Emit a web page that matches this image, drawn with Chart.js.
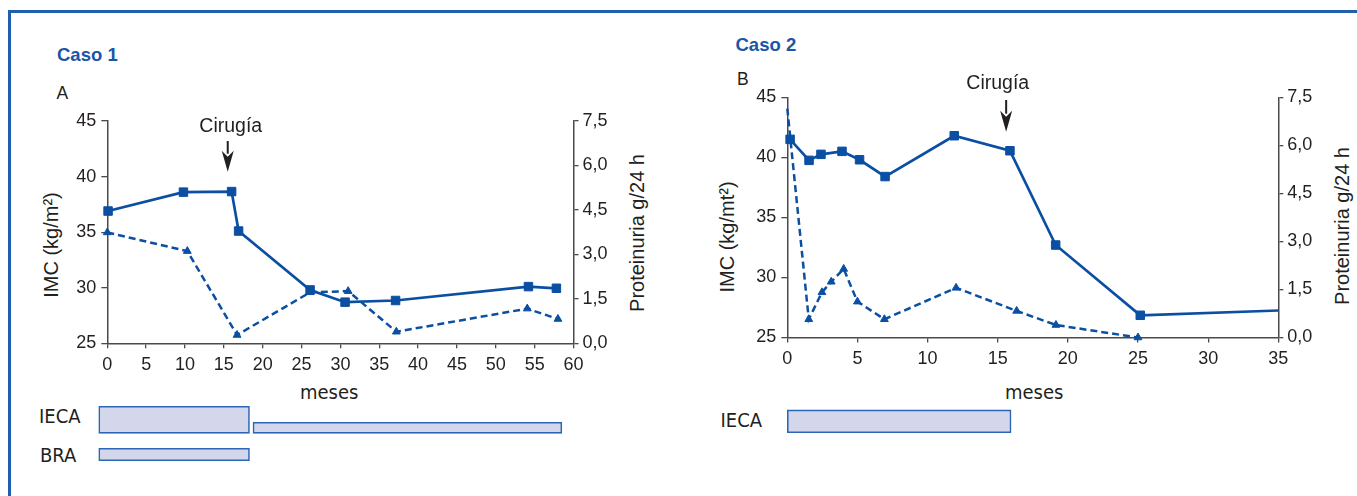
<!DOCTYPE html>
<html><head><meta charset="utf-8">
<script src="https://cdn.jsdelivr.net/npm/chart.js@4/dist/chart.umd.min.js"></script>
<style>
html,body{margin:0;padding:0;background:#fff;}
body{width:1357px;height:496px;position:relative;overflow:hidden;font-family:"Liberation Sans",Arial,sans-serif;color:#231f20;}
.abs{position:absolute;line-height:1;white-space:nowrap;}
.frameTop{position:absolute;left:8px;top:10px;width:1349px;height:3px;background:#1f5fae;}
.frameLeft{position:absolute;left:8px;top:10px;width:3px;height:486px;background:#1f5fae;}
.caso{font-weight:bold;color:#1a56a6;font-size:18.5px;}
.panel{font-size:17.5px;}
.narrow{font-family:"Liberation Sans Narrow","DejaVu Sans Condensed",sans-serif;}
.lab{font-size:20px;}
.meses{font-size:20px;}
.rot{transform:translate(-50%,-50%) rotate(-90deg);font-size:20px;}
canvas{position:absolute;}
</style></head><body>
<div class="frameTop"></div><div class="frameLeft"></div>

<div class="abs caso" style="left:57px;top:46px;">Caso 1</div>
<div class="abs panel" style="left:56.5px;top:84.5px;">A</div>
<div class="abs caso" style="left:735.5px;top:36px;">Caso 2</div>
<div class="abs panel" style="left:737px;top:70.5px;">B</div>

<div class="abs rot" style="left:51px;top:245px;">IMC (kg/m²)</div>
<div class="abs rot" style="left:637px;top:233px;">Proteinuria g/24 h</div>
<div class="abs rot" style="left:727px;top:237px;">IMC (kg/mt²)</div>
<div class="abs rot" style="left:1342px;top:226px;">Proteinuria g/24 h</div>

<div class="abs narrow meses" style="left:300px;top:382px;">meses</div>
<div class="abs narrow meses" style="left:1005px;top:382px;">meses</div>

<div class="abs narrow lab" style="left:39px;top:406px;">IECA</div>
<div class="abs narrow lab" style="left:40px;top:445px;">BRA</div>
<div class="abs narrow lab" style="left:720.5px;top:410px;">IECA</div>

<canvas id="c1" width="600" height="300" style="left:40px;top:95px;"></canvas>
<canvas id="c2" width="640" height="330" style="left:715px;top:60px;"></canvas>
<canvas id="t1" width="490" height="70" style="left:95px;top:400px;"></canvas>
<canvas id="t2" width="515" height="50" style="left:775px;top:400px;"></canvas>

<script>
// ---------- DATA ----------
// Caso 1
const case1ImcMonths   = [0.1, 9.8, 16.0, 16.9, 26.1, 30.6, 37.1, 54.2, 57.8];
const case1Imc         = [36.9, 38.6, 38.65, 35.1, 29.8, 28.7, 28.85, 30.1, 29.95];
const case1ProtMonths  = [0, 10.3, 16.7, 26.1, 31.0, 37.2, 54.05, 58.0];
const case1Prot        = [3.74, 3.11, 0.28, 1.72, 1.76, 0.39, 1.17, 0.82];
const case1Surgery     = 15.5;
const case1IecaSegs    = [[-1.1, 18.3], [18.75, 58.5]];
const case1BraSegs     = [[-1.1, 18.3]];
// Caso 2
const case2ImcMonths   = [0.2, 1.55, 2.4, 3.9, 5.15, 6.97, 11.9, 15.87, 19.13, 25.16, 35];
const case2Imc         = [41.5, 39.75, 40.25, 40.5, 39.8, 38.4, 41.8, 40.55, 32.7, 26.85, 27.25];
const case2ProtMonths  = [0, 1.53, 2.47, 3.13, 4.02, 5.0, 6.92, 12.03, 16.35, 19.15, 25.0];
const case2Prot        = [7.15, 0.57, 1.41, 1.74, 2.14, 1.12, 0.57, 1.55, 0.83, 0.39, 0.0];
const case2Surgery     = 15.6;
const case2IecaSegs    = [[0, 15.95]];
// Tick / axis ranges
const imcTicks  = {min: 25, max: 45, step: 5};
const protTicks = {min: 0, max: 7.5, step: 1.5};
const case1XMax = 60, case2XMax = 35, monthStep = 5;

// ---------- STYLE ----------
const FONT = '"Liberation Sans", Arial, sans-serif';
const BLUE = '#0b4fa3';
const AXIS = '#4a4a4a';
const TXT = '#231f20';
const FILL = '#d4d7eb', EDGE = '#2b66b6';

const surgeryPlugin = {
  id: 'surgery',
  afterDatasetsDraw(chart, args, o) {
    const {ctx, chartArea, scales} = chart;
    const x = scales.x.getPixelForValue(o.month);
    const top = chartArea.top;
    ctx.save();
    ctx.fillStyle = TXT; ctx.strokeStyle = TXT;
    ctx.font = '19.5px ' + FONT;
    ctx.textAlign = 'center'; ctx.textBaseline = 'alphabetic';
    ctx.fillText('Cirugía', x + o.textDx, top + o.textDy);
    const y1 = top + o.arrowTop, y2 = top + o.arrowBottom;
    const headLen = 21, headW = 12;
    ctx.lineWidth = 2;
    ctx.beginPath(); ctx.moveTo(x, y1); ctx.lineTo(x, y2 - headLen + 3); ctx.stroke();
    ctx.beginPath();
    ctx.moveTo(x - headW / 2, y2 - headLen);
    ctx.lineTo(x, y2 - headLen + 6);
    ctx.lineTo(x + headW / 2, y2 - headLen);
    ctx.lineTo(x, y2);
    ctx.closePath(); ctx.fill();
    ctx.restore();
  }
};

function axisCommon(tickLen, pad) {
  return {
    grid: {display: true, drawOnChartArea: false, drawTicks: true, tickLength: tickLen, color: AXIS, lineWidth: 1.3},
    border: {display: true, color: AXIS, width: 1.5},
    ticks: {color: TXT, font: {size: 18, family: FONT}, padding: pad}
  };
}

function mainChart(id, c) {
  const xAxis = axisCommon(5, 6);
  xAxis.type = 'linear'; xAxis.min = 0; xAxis.max = c.xMax;
  xAxis.ticks.stepSize = monthStep; xAxis.ticks.maxRotation = 0;
  xAxis.afterFit = s => { s.height = c.xH; };
  const yAxis = axisCommon(6, 5);
  yAxis.position = 'left'; yAxis.min = imcTicks.min; yAxis.max = imcTicks.max;
  yAxis.ticks.stepSize = imcTicks.step;
  yAxis.afterFit = s => { s.width = c.leftW; };
  const y1Axis = axisCommon(5, 4);
  y1Axis.position = 'right'; y1Axis.min = protTicks.min; y1Axis.max = protTicks.max;
  y1Axis.ticks.stepSize = protTicks.step;
  y1Axis.ticks.callback = v => Number(v).toFixed(1).replace('.', ',');
  y1Axis.afterFit = s => { s.width = c.rightW; };

  return new Chart(document.getElementById(id), {
    type: 'line',
    data: {datasets: [
      {label: 'IMC', yAxisID: 'y',
       data: c.imcMonths.map((m, i) => ({x: m, y: c.imc[i]})),
       borderColor: BLUE, backgroundColor: BLUE, borderWidth: 2.7,
       pointStyle: 'rect', pointRadius: c.imcRadius, pointBorderWidth: 1,
       pointBackgroundColor: BLUE, pointBorderColor: BLUE, tension: 0, clip: false},
      {label: 'Proteinuria', yAxisID: 'y1',
       data: c.protMonths.map((m, i) => ({x: m, y: c.prot[i]})),
       borderColor: BLUE, backgroundColor: BLUE, borderWidth: 2.5, borderDash: [7, 4],
       pointStyle: 'triangle', pointRadius: c.protRadius, pointBorderWidth: 1,
       pointBackgroundColor: BLUE, pointBorderColor: BLUE, tension: 0, clip: false}
    ]},
    options: {
      responsive: false, animation: false, events: [],
      layout: {padding: {top: c.padTop, left: 0, right: 0, bottom: 0}},
      plugins: {legend: {display: false}, tooltip: {enabled: false}, surgery: c.surgery},
      scales: {x: xAxis, y: yAxis, y1: y1Axis}
    },
    plugins: [surgeryPlugin]
  });
}

mainChart('c1', {
  imcMonths: case1ImcMonths, imc: case1Imc, protMonths: case1ProtMonths, prot: case1Prot,
  xMax: case1XMax, leftW: 67.3, rightW: 66.5, padTop: 26, xH: 51.7,
  imcRadius: 6, protRadius: 4.5,
  surgery: {month: case1Surgery, textDx: 3, textDy: 11, arrowTop: 20, arrowBottom: 50.7}
});
mainChart('c2', {
  imcMonths: case2ImcMonths, imc: case2Imc, protMonths: case2ProtMonths, prot: case2Prot,
  xMax: case2XMax, leftW: 72.3, rightW: 76.7, padTop: 37.3, xH: 52.5,
  imcRadius: ctx => (ctx.dataIndex === case2ImcMonths.length - 1 ? 0 : 6),
  protRadius: ctx => (ctx.dataIndex === 0 ? 0 : 4.5),
  surgery: {month: case2Surgery, textDx: -8.4, textDy: -8.3, arrowTop: 2.7, arrowBottom: 34.4}
});

// Treatment bars: rows laid out in canvas pixels (layout only)
function treatmentChart(id, rows, xMax, padL, padR, h) {
  const datasets = [];
  rows.forEach(r => r.segs.forEach((s, k) => {
    const lay = r.layout[k];
    datasets.push({data: [{x: s, y: lay.center}], barThickness: lay.thick,
      backgroundColor: FILL, borderColor: EDGE, borderWidth: 1.6, borderSkipped: false, clip: false});
  }));
  return new Chart(document.getElementById(id), {
    type: 'bar',
    data: {datasets},
    options: {
      indexAxis: 'y', responsive: false, animation: false, events: [],
      layout: {padding: {left: padL, right: padR, top: 0, bottom: 0}},
      plugins: {legend: {display: false}, tooltip: {enabled: false}},
      scales: {
        x: {type: 'linear', min: 0, max: xMax, display: false},
        y: {type: 'linear', min: 0, max: h, reverse: true, display: false, stacked: true, offset: false}
      }
    }
  });
}
treatmentChart('t1', [
  {segs: case1IecaSegs, layout: [{center: 19.8, thick: 27}, {center: 27.8, thick: 11}]},
  {segs: case1BraSegs,  layout: [{center: 54.5, thick: 12.5}]}
], case1XMax, 12.3, 11.5, 70);
treatmentChart('t2', [
  {segs: case2IecaSegs, layout: [{center: 21.3, thick: 22.7}]}
], case2XMax, 12.3, 11.7, 50);
</script>
</body></html>
